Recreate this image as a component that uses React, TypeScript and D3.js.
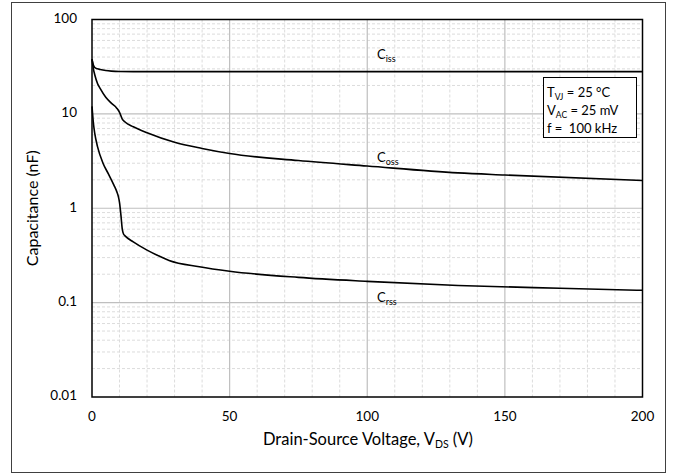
import React from "react";
import * as d3 from "d3";

const xTicks = [0, 50, 100, 150, 200];
const yTicks = [0.01, 0.1, 1, 10, 100];
const yTickLabels = ["0.01", "0.1", "1", "10", "100"];

const cissV = [0, 0.5, 1, 2, 3, 5, 7, 10, 15, 20, 30, 50, 75, 100, 150, 200];
const cissC = [38, 33, 31, 30, 29.5, 28.8, 28.4, 28.1, 28, 28, 28, 28, 28, 28, 28, 28];

const cossV = [0, 0.5, 1, 2, 3, 5, 7, 9, 10, 11, 12, 15, 20, 30, 40, 50, 75, 100, 133, 150, 200];
const cossC = [38, 30, 26, 21, 18.5, 15, 13, 11.5, 10.4, 8.8, 8.2, 7.3, 6.3, 5.0, 4.3, 3.8, 3.2, 2.8, 2.37, 2.25, 1.97];

const crssV = [0, 0.5, 1, 2, 4, 6, 8, 9, 9.6, 10, 10.5, 11, 11.5, 12, 15, 20, 23.5, 28, 39, 50, 75, 100, 133, 170, 200];
const crssC = [12, 8, 6.2, 4.5, 3.0, 2.3, 1.75, 1.5, 1.32, 1.15, 0.85, 0.6, 0.53, 0.51, 0.44, 0.36, 0.32, 0.28, 0.24, 0.215, 0.185, 0.168, 0.152, 0.142, 0.135];

const legendLines = [
  { main: "T", sub: "VJ", rest: " = 25 °C" },
  { main: "V", sub: "AC", rest: " = 25 mV" },
  { main: "f =\u00a0 100 kHz", sub: "", rest: "" },
];

const FONT = "Lato, 'Open Sans', sans-serif";

export default function App() {
  const W = 673, H = 474;
  const L = 92, R = 642.5, T = 19.5, B = 397;
  const x = d3.scaleLinear().domain([0, 200]).range([L, R]);
  const y = d3.scaleLog().domain([0.01, 100]).range([B, T]);

  const line = d3
    .line<[number, number]>()
    .x((d) => x(d[0]))
    .y((d) => y(d[1]))
    .curve(d3.curveMonotoneX);

  const minorX = d3.range(10, 200, 10).filter((v) => v % 50 !== 0);
  const minorY: number[] = [];
  [0.01, 0.1, 1, 10].forEach((dec) => {
    for (let k = 2; k <= 9; k++) minorY.push(dec * k);
  });

  const series = [
    { v: cissV, c: cissC },
    { v: cossV, c: cossC },
    { v: crssV, c: crssC },
  ];

  const curveLabels = [
    { main: "C", sub: "iss", x: 377, y: 59 },
    { main: "C", sub: "oss", x: 377, y: 162 },
    { main: "C", sub: "rss", x: 377, y: 302 },
  ];

  return (
    <svg width={W} height={H} style={{ display: "block", position: "absolute", left: 0, top: 0 }} fontFamily={FONT}>
      <rect x={0} y={0} width={W} height={H} fill="#fff" />
      <rect x={11.5} y={2.5} width={654} height={470} fill="#fff" stroke="#404040" strokeWidth={1} />
      {/* minor grid */}
      {minorX.map((v) => (
        <line key={"mx" + v} x1={x(v)} x2={x(v)} y1={T} y2={B} stroke="#dcdcdc" strokeWidth={1} strokeDasharray="3,2" />
      ))}
      {minorY.map((v) => (
        <line key={"my" + v} x1={L} x2={R} y1={y(v)} y2={y(v)} stroke="#dcdcdc" strokeWidth={1} strokeDasharray="3,2" />
      ))}
      {/* major grid */}
      {xTicks.slice(1, -1).map((v) => (
        <line key={"Mx" + v} x1={x(v)} x2={x(v)} y1={T} y2={B} stroke="#bfbfbf" strokeWidth={1.2} />
      ))}
      {yTicks.slice(1, -1).map((v) => (
        <line key={"My" + v} x1={L} x2={R} y1={y(v)} y2={y(v)} stroke="#bfbfbf" strokeWidth={1.2} />
      ))}
      {/* curves */}
      {series.map((s, i) => (
        <path
          key={"s" + i}
          d={line(s.v.map((v, j) => [v, s.c[j]] as [number, number])) || ""}
          fill="none"
          stroke="#000"
          strokeWidth={1.6}
        />
      ))}
      {/* frame */}
      <rect x={L} y={T} width={R - L} height={B - T} fill="none" stroke="#000" strokeWidth={1.5} />
      {/* tick labels */}
      {xTicks.map((v) => (
        <text key={"xt" + v} x={x(v)} y={418} textAnchor="middle" dominantBaseline="middle" fontSize={13.5} fill="#000">
          {v}
        </text>
      ))}
      {yTicks.map((v, i) => (
        <text key={"yt" + v} x={77} y={y(v)} textAnchor="end" dominantBaseline="middle" fontSize={13.5} fill="#000">
          {yTickLabels[i]}
        </text>
      ))}
      {/* axis titles */}
      <text x={368} y={445} textAnchor="middle" fontSize={16.5} fill="#000">
        Drain-Source Voltage, V<tspan fontSize={10.5} dy={3}>DS</tspan>
        <tspan dy={-3}> (V)</tspan>
      </text>
      <text
        transform={`translate(38, ${(T + B) / 2}) rotate(-90)`}
        textAnchor="middle"
        fontSize={16}
        fill="#000"
      >
        Capacitance (nF)
      </text>
      {/* curve labels */}
      {curveLabels.map((c, i) => (
        <text key={"cl" + i} x={c.x} y={c.y} fontSize={13} fill="#000">
          {c.main}
          <tspan fontSize={9} dy={2.5}>{c.sub}</tspan>
        </text>
      ))}
      {/* legend box */}
      <rect x={543.5} y={77.5} width={93} height={60} fill="#fff" stroke="#000" strokeWidth={1} />
      {legendLines.map((l, i) => (
        <text key={"lg" + i} x={547} y={97 + i * 18} fontSize={13} fill="#000">
          {l.main}
          {l.sub ? <tspan fontSize={8.5} dy={2.5}>{l.sub}</tspan> : null}
          {l.sub ? <tspan dy={-2.5}>{l.rest}</tspan> : null}
        </text>
      ))}
    </svg>
  );
}
